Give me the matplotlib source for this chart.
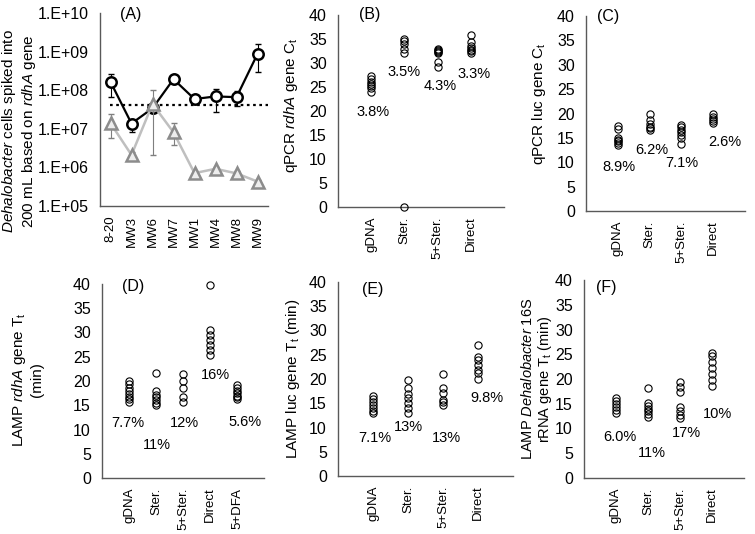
import matplotlib
matplotlib.use("Agg")
import matplotlib.pyplot as plt
from matplotlib.ticker import FixedLocator, FixedFormatter

plt.rcParams['font.family'] = ['Liberation Sans', 'DejaVu Sans']
plt.rcParams['mathtext.fontset'] = 'custom'
plt.rcParams['mathtext.rm'] = 'Liberation Sans'
plt.rcParams['mathtext.it'] = 'Liberation Sans:italic'

# ---------------- Data ----------------
# Panel A
sites = ['8-20', 'MW3', 'MW6', 'MW7', 'MW1', 'MW4', 'MW8', 'MW9']
black_vals = [1.65e8, 1.37e7, 3.4e7, 1.93e8, 5.9e7, 6.9e7, 6.6e7, 8.7e8]
black_low = [6.6e7, 8.5e6, 2.6e7, 1.6e8, 5.0e7, 2.75e7, 3.8e7, 2.9e8]
black_high = [2.7e8, 1.6e7, 4.4e7, 2.3e8, 7.0e7, 1.07e8, 9.3e7, 1.58e9]
gray_vals = [1.4e7, 2.1e6, 4.4e7, 8.1e6, 7.1e5, 9.2e5, 7.0e5, 4.3e5]
gray_low = [5.7e6, 1.8e6, 2.1e6, 3.8e6, 6.3e5, 8.2e5, 6.2e5, 3.8e5]
gray_high = [2.45e7, 2.5e6, 1.02e8, 1.4e7, 8.0e5, 1.03e6, 7.9e5, 4.8e5]
detect_limit = 4.1e7
a_yticks = [1e5, 1e6, 1e7, 1e8, 1e9, 1e10]
a_yticklabels = ['1.E+05', '1.E+06', '1.E+07', '1.E+08', '1.E+09', '1.E+10']

# Panel B: qPCR rdhA gene Ct
b_groups = ['gDNA', 'Ster.', '5+Ster.', 'Direct']
b_data = [
    [27.2, 26.6, 26.0, 25.6, 25.2, 24.8, 24.0],
    [35.1, 34.5, 34.0, 33.0, 32.0, 0.0],
    [33.0, 32.8, 32.5, 32.2, 32.0, 30.3, 29.2],
    [35.8, 34.4, 33.6, 33.2, 32.8, 32.4, 32.0],
]
b_cv = ['3.8%', '3.5%', '4.3%', '3.3%']

# Panel C: qPCR luc gene Ct
c_groups = ['gDNA', 'Ster.', '5+Ster.', 'Direct']
c_data = [
    [17.5, 16.8, 15.0, 14.6, 14.3, 14.0, 13.6],
    [20.0, 18.7, 17.8, 17.3, 17.0, 16.6],
    [17.6, 17.2, 16.6, 16.3, 15.6, 14.9, 13.7],
    [19.8, 19.2, 18.8, 18.4, 18.0],
]
c_cv = ['8.9%', '6.2%', '7.1%', '2.6%']

# Panel D: LAMP rdhA gene Tt
d_groups = ['gDNA', 'Ster.', '5+Ster.', 'Direct', '5+DFA']
d_data = [
    [20.0, 19.3, 18.6, 18.0, 17.4, 16.8, 16.2, 15.7],
    [21.7, 18.0, 17.2, 16.6, 16.0, 15.5, 15.1],
    [21.4, 20.0, 18.5, 16.8, 15.6],
    [39.8, 30.5, 29.5, 28.5, 27.4, 26.4, 25.4],
    [19.2, 18.6, 18.0, 17.5, 17.0, 16.6, 16.2],
]
d_cv = ['7.7%', '11%', '12%', '16%', '5.6%']

# Panel E: LAMP luc gene Tt
e_groups = ['gDNA', 'Ster.', '5+Ster.', 'Direct']
e_data = [
    [16.5, 15.9, 15.3, 14.7, 14.1, 13.5, 12.9],
    [19.8, 18.1, 17.0, 16.0, 15.0, 14.0, 12.9],
    [21.0, 18.1, 17.2, 15.7, 15.2, 14.6],
    [27.0, 24.6, 23.9, 22.9, 21.9, 21.2, 20.1],
]
e_cv = ['7.1%', '13%', '13%', '9.8%']

# Panel F: LAMP Dehalobacter 16S rRNA gene Tt
f_groups = ['gDNA', 'Ster.', '5+Ster.', 'Direct']
f_data = [
    [16.2, 15.6, 15.0, 14.4, 13.8, 13.2],
    [18.2, 15.2, 14.5, 14.0, 13.5, 13.0, 12.4],
    [19.3, 18.4, 17.4, 14.4, 13.6, 12.7, 12.1],
    [25.3, 24.6, 23.5, 22.3, 21.0, 19.8, 18.6],
]
f_cv = ['6.0%', '11%', '17%', '10%']

# ---------------- Layout (annotation positions) ----------------
b_cv_pos = [(1.05, 19.8), (2.0, 28.1), (3.07, 25.2), (4.1, 27.7)]
c_cv_pos = [(1.04, 9.0), (2.08, 12.5), (3.02, 9.8), (4.37, 14.2)]
d_cv_pos = [(0.96, 11.3), (2.04, 6.8), (3.07, 11.3), (4.19, 21.2), (5.3, 11.5)]
e_cv_pos = [(1.06, 7.8), (2.0, 10.1), (3.11, 7.8), (4.26, 16.1)]
f_cv_pos = [(1.12, 8.3), (2.12, 5.0), (3.2, 9.1), (4.16, 12.9)]

W, H = 755, 534
fig = plt.figure(figsize=(W / 100, H / 100), dpi=100)

def px_axes(left, right, top, bottom):
    return fig.add_axes([left / W, 1 - bottom / H, (right - left) / W, (bottom - top) / H])

SPINE = '#595959'
TICK_FS = 11.5
XT_FS = 9.5
CV_FS = 10.5
LAB_FS = 11

def style(ax):
    for s in ['top', 'right']:
        ax.spines[s].set_visible(False)
    for s in ['left', 'bottom']:
        ax.spines[s].set_color(SPINE)
        ax.spines[s].set_linewidth(1.0)
    ax.tick_params(axis='both', length=0, labelsize=TICK_FS, colors='black')
    ax.tick_params(axis='y', pad=8)
    ax.tick_params(axis='x', pad=7)

# ---- Panel A ----
axA = px_axes(100, 268, 13, 206)
style(axA)
xs = list(range(len(sites)))
axA.set_yscale('log')
axA.set_ylim(1e5, 1e10)
axA.set_xlim(-0.5, len(sites) - 0.5)
b_err = [[v - l for v, l in zip(black_vals, black_low)], [h - v for v, h in zip(black_vals, black_high)]]
g_err = [[v - l for v, l in zip(gray_vals, gray_low)], [h - v for v, h in zip(gray_vals, gray_high)]]
axA.errorbar(xs, black_vals, yerr=b_err, fmt='none', ecolor='black', elinewidth=0.8, capsize=2.5, zorder=2)
axA.plot(xs, black_vals, '-', color='black', lw=1.6, zorder=3)
axA.plot(xs, black_vals, 'o', mfc='white', mec='black', ms=7.5, mew=1.8, zorder=4, linestyle='none')
axA.errorbar(xs, gray_vals, yerr=g_err, fmt='none', ecolor='#7f7f7f', elinewidth=0.8, capsize=2.5, zorder=5)
axA.plot(xs, gray_vals, '-', color='#bfbfbf', lw=1.8, zorder=6)
axA.plot(xs, gray_vals, '^', mfc='#ededed', mec='#8c8c8c', ms=9, mew=1.8, zorder=7, linestyle='none')
axA.axhline(detect_limit, xmin=0.06, xmax=1.0, color='black', ls=(0, (1.2, 1.6)), lw=1.6, zorder=1)
axA.yaxis.set_major_locator(FixedLocator(a_yticks))
axA.yaxis.set_major_formatter(FixedFormatter(a_yticklabels))
axA.yaxis.set_minor_locator(FixedLocator([]))
axA.set_xticks(xs)
axA.set_xticklabels(sites, rotation=90, fontsize=XT_FS)
axA.text(0.18, 0.99, '(A)', transform=axA.transAxes, ha='center', va='center', fontsize=11.5)

# ---- scatter panels ----
def scatter_panel(ax, groups, data, cvs, cv_pos, letter, letter_pos, ncols):
    style(ax)
    for i, vals in enumerate(data):
        ax.plot([i + 1] * len(vals), vals, 'o', mfc='none', mec='black', ms=5.2, mew=0.8,
                linestyle='none', clip_on=False, zorder=3)
    for t, (x, y) in zip(cvs, cv_pos):
        ax.text(x, y, t, ha='center', va='center', fontsize=CV_FS)
    ax.set_xlim(0, ncols)
    ax.set_ylim(0, 40)
    ax.set_yticks(range(0, 41, 5))
    ax.set_xticks(range(1, len(groups) + 1))
    ax.set_xticklabels(groups, rotation=90, fontsize=XT_FS)
    ax.text(letter_pos[0], letter_pos[1], letter, transform=ax.transAxes, ha='center', va='center', fontsize=11.5)

axB = px_axes(338, 504, 15, 207)
scatter_panel(axB, b_groups, b_data, b_cv, b_cv_pos, '(B)', (0.19, 1.0), 5)
axC = px_axes(586, 745, 16, 211)
scatter_panel(axC, c_groups, c_data, c_cv, c_cv_pos, '(C)', (0.14, 1.0), 5)
axD = px_axes(102, 264, 284, 478)
scatter_panel(axD, d_groups, d_data, d_cv, d_cv_pos, '(D)', (0.19, 0.985), 6)
axE = px_axes(338, 513, 282, 476)
scatter_panel(axE, e_groups, e_data, e_cv, e_cv_pos, '(E)', (0.2, 0.96), 5)
axF = px_axes(584, 744, 280, 478)
scatter_panel(axF, f_groups, f_data, f_cv, f_cv_pos, '(F)', (0.14, 0.96), 5)

# ---- y labels ----
def ylab(xpx, ypx, s, fs=LAB_FS, ls=1.1):
    fig.text(xpx / W, 1 - ypx / H, s, rotation=90, ha='center', va='center',
             fontsize=fs, multialignment='center', linespacing=ls)

ylab(19, 131, '$\\mathit{Dehalobacter}$ cells spiked into\n200 mL based on $\\mathit{rdhA}$ gene')
ylab(291, 105, 'qPCR $\\mathit{rdhA}$ gene C$_\\mathrm{t}$')
ylab(539, 104, 'qPCR luc gene C$_\\mathrm{t}$')
ylab(27, 380, 'LAMP $\\mathit{rdhA}$ gene T$_\\mathrm{t}$\n(min)')
ylab(293, 379, 'LAMP luc gene T$_\\mathrm{t}$ (min)')
ylab(537, 379, 'LAMP $\\mathit{Dehalobacter}$ 16S\nrRNA gene T$_\\mathrm{t}$ (min)', fs=10.5, ls=1.05)

fig.savefig('out.png', dpi=100)
